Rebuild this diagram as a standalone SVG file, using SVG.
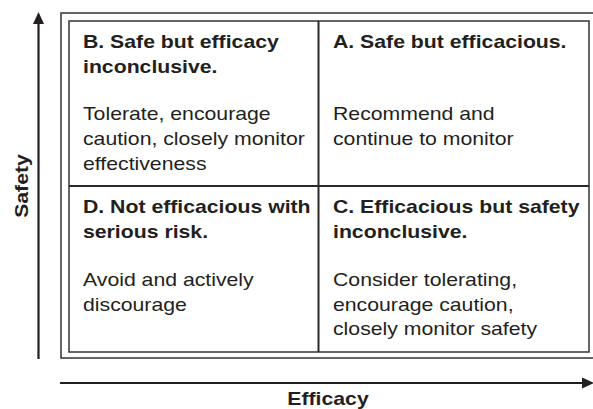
<svg xmlns="http://www.w3.org/2000/svg" width="593" height="409" viewBox="0 0 593 409">
<style>
text{font-family:"Liberation Sans",Arial,sans-serif;font-size:18px;fill:#231f20}
.t{font-weight:bold}
.frame{fill:none;stroke:#333;stroke-width:1.5}
.div{stroke:#2a2a2a;stroke-width:2}
.axis{stroke:#231f20;stroke-width:2.2;fill:none}
</style>
<rect x="0" y="0" width="593" height="409" fill="#fff"/>
<g id="frame">
<rect class="frame" x="61" y="13" width="540" height="345"/>
<rect class="frame" x="69" y="21" width="520" height="331"/>
<line class="div" x1="318.5" y1="21" x2="318.5" y2="352"/>
<line class="div" x1="69" y1="186" x2="589" y2="186"/>
</g>
<g id="quadB">
<text class="t" transform="translate(83 48) scale(1.18 1)">B. Safe but efficacy</text>
<text class="t" transform="translate(83 72.5) scale(1.18 1)">inconclusive.</text>
<text transform="translate(83 120) scale(1.18 1)">Tolerate, encourage</text>
<text transform="translate(83 145) scale(1.18 1)">caution, closely monitor</text>
<text transform="translate(83 170) scale(1.18 1)">effectiveness</text>
</g>
<g id="quadA">
<text class="t" transform="translate(333 48) scale(1.18 1)">A. Safe but efficacious.</text>
<text transform="translate(333 120) scale(1.18 1)">Recommend and</text>
<text transform="translate(333 145) scale(1.18 1)">continue to monitor</text>
</g>
<g id="quadD">
<text class="t" transform="translate(83 213) scale(1.18 1)">D. Not efficacious with</text>
<text class="t" transform="translate(83 237.5) scale(1.18 1)">serious risk.</text>
<text transform="translate(83 286) scale(1.18 1)">Avoid and actively</text>
<text transform="translate(83 311) scale(1.18 1)">discourage</text>
</g>
<g id="quadC">
<text class="t" transform="translate(333 213) scale(1.18 1)">C. Efficacious but safety</text>
<text class="t" transform="translate(333 237.5) scale(1.18 1)">inconclusive.</text>
<text transform="translate(333 286) scale(1.18 1)">Consider tolerating,</text>
<text transform="translate(333 310.5) scale(1.18 1)">encourage caution,</text>
<text transform="translate(333 335) scale(1.18 1)">closely monitor safety</text>
</g>
<g id="connectors">
<line class="axis" x1="38.5" y1="359" x2="38.5" y2="22"/>
<polygon points="38.5,12 33,24 44,24" fill="#231f20"/>
<line class="axis" x1="60" y1="383" x2="584" y2="383"/>
<polygon points="594,383 582,377.5 582,388.5" fill="#231f20"/>
</g>
<g id="labels">
<text class="t" text-anchor="middle" transform="translate(28 186) rotate(-90) scale(1.18 1)">Safety</text>
<text class="t" text-anchor="middle" transform="translate(328 405) scale(1.18 1)">Efficacy</text>
</g>
</svg>
